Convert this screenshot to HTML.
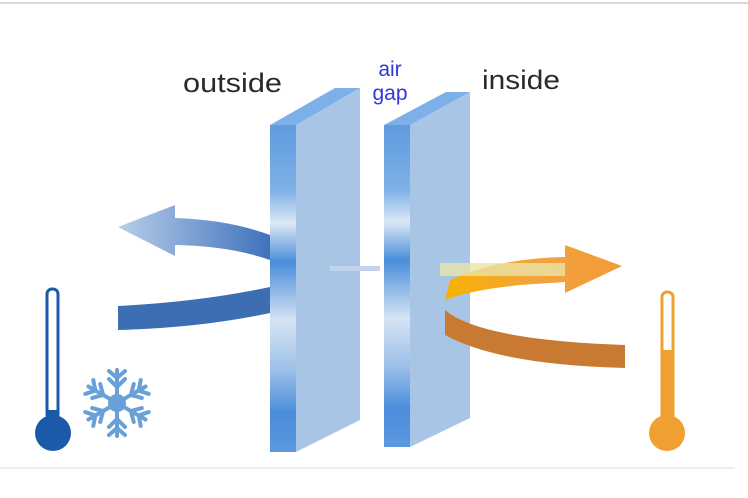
<!DOCTYPE html>
<html><head><meta charset="utf-8"><style>
html,body{margin:0;padding:0;background:#fff;width:748px;height:498px;overflow:hidden}
svg{display:block}
</style></head><body>
<svg width="748" height="498" viewBox="0 0 748 498" xmlns="http://www.w3.org/2000/svg">
<defs>
<linearGradient id="front" x1="0" y1="0" x2="0" y2="1">
<stop offset="0" stop-color="#5e9be0"/><stop offset="0.2" stop-color="#7fb0e6"/><stop offset="0.3" stop-color="#dbe8f5"/>
<stop offset="0.42" stop-color="#4a8ddb"/><stop offset="0.6" stop-color="#d6e4f3"/><stop offset="0.75" stop-color="#9cc0e8"/>
<stop offset="0.88" stop-color="#4a8ddb"/><stop offset="1" stop-color="#5b98de"/></linearGradient>
<linearGradient id="lt" x1="0" y1="0" x2="1" y2="0"><stop offset="0" stop-color="#b8cde8"/><stop offset="1" stop-color="#3f72bd"/></linearGradient>
<linearGradient id="ot" x1="0" y1="0" x2="1" y2="0"><stop offset="0" stop-color="#f7b200"/><stop offset="0.5" stop-color="#f2a43c"/><stop offset="1" stop-color="#f29a3a"/></linearGradient>
</defs>
<line x1="0" y1="3" x2="748" y2="3" stroke="#d8d8d8" stroke-width="2"/>
<line x1="0" y1="468" x2="735" y2="468" stroke="#eeeeee" stroke-width="2"/>
<text x="183" y="92" font-family="Liberation Sans, sans-serif" font-size="27" fill="#2a2a2a" textLength="99" lengthAdjust="spacingAndGlyphs">outside</text>
<text x="482" y="89" font-family="Liberation Sans, sans-serif" font-size="27" fill="#2a2a2a" textLength="78" lengthAdjust="spacingAndGlyphs">inside</text>
<text x="390" y="76" text-anchor="middle" font-family="Liberation Sans, sans-serif" font-size="21" fill="#3535e0">air</text>
<text x="390" y="100" text-anchor="middle" font-family="Liberation Sans, sans-serif" font-size="21" fill="#3535e0">gap</text>
<!-- left arrows -->
<path d="M118 227 L175 205 L175 218 Q230 220 270 235 L270 260 Q230 246 175 245 L175 256 Z" fill="url(#lt)"/>
<path d="M118 306 Q200 302 270 287 L270 313 Q200 328 118 330 Z" fill="#3d6db2"/>
<!-- pane 1 -->
<polygon points="296,125 360,88 360,420 296,452" fill="#a9c5e5"/>
<polygon points="270,125 296,125 360,88 335,88" fill="#7db0e8"/>
<rect x="270" y="125" width="26" height="327" fill="url(#front)"/>
<!-- pane 2 -->
<polygon points="410,125 470,92 470,418 410,447" fill="#a9c5e5"/>
<polygon points="384,125 410,125 470,92 446,92" fill="#7db0e8"/>
<rect x="384" y="125" width="26" height="322" fill="url(#front)"/>
<rect x="330" y="266" width="50" height="5" fill="#c3d4ea"/>
<!-- orange -->
<path d="M445 300 Q470 290 520 285 L565 282 L565 293 L622 266 L565 245 L565 257 Q500 258 450 280 Z" fill="url(#ot)"/>
<rect x="440" y="263" width="125" height="13" fill="#e8e4a8" opacity="0.8"/>
<path d="M445 310 Q480 340 625 345 L625 368 Q500 365 445 335 Z" fill="#c97a32"/>
<!-- thermometers -->
<rect x="47" y="289" width="11" height="130" rx="5" fill="#fff" stroke="#1a5aa8" stroke-width="3"/>
<circle cx="53" cy="433" r="18" fill="#1a5aa8"/><rect x="47" y="410" width="12" height="20" fill="#1a5aa8"/>
<rect x="662" y="292" width="11" height="130" rx="5" fill="#fff" stroke="#f0a030" stroke-width="3"/>
<rect x="662" y="350" width="11" height="70" fill="#f0a030"/>
<circle cx="667" cy="433" r="18" fill="#f0a030"/>
<!-- snowflake -->
<g stroke="#6aa0d8" stroke-width="4" stroke-linecap="round" fill="none" transform="translate(117,403)">
<g id="arm"><line x1="0" y1="0" x2="0" y2="-33"/><path d="M-8 -24 L0 -16 L8 -24 M-8 -32 L0 -25 L8 -32"/></g>
<use href="#arm" transform="rotate(60)"/><use href="#arm" transform="rotate(120)"/><use href="#arm" transform="rotate(180)"/><use href="#arm" transform="rotate(240)"/><use href="#arm" transform="rotate(300)"/>
<circle r="7" fill="#6aa0d8"/>
</g>
</svg>
</body></html>
